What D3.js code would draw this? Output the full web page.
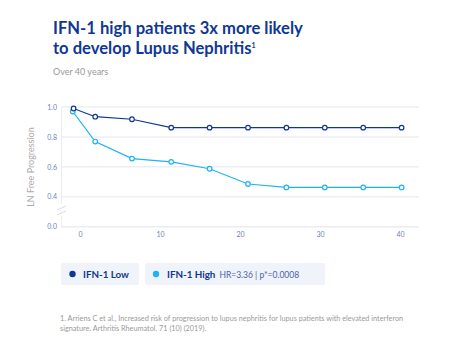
<!DOCTYPE html>
<html>
<head>
<meta charset="utf-8">
<script src="https://cdn.jsdelivr.net/npm/d3@7"></script>
<style>
  body { margin: 0; background: #fff; }
  svg { display: block; font-family: Lato, "Open Sans", sans-serif; }
</style>
</head>
<body>
<svg id="chart" width="461" height="361"></svg>
<script>
const years = [-0.8, 1.9, 6.5, 11.4, 16.2, 21.0, 25.8, 30.6, 35.4, 40.2]
const lowValues = [0.99, 0.935, 0.918, 0.862, 0.862, 0.862, 0.862, 0.862, 0.862, 0.862]
const highYears = [-0.9, 1.9, 6.5, 11.4, 16.2, 21.0, 25.8, 30.6, 35.4, 40.2]
const highValues = [0.97, 0.769, 0.655, 0.633, 0.587, 0.485, 0.462, 0.462, 0.462, 0.462]
const xTicks = [0, 10, 20, 30, 40]
const yTicks = [0, 0.4, 0.6, 0.8, 1.0]

const navy = '#0f3893'
const cyan = '#1cb4f2'

const svg = d3.select('#chart')

// title
svg.append('text').attr('x', 53).attr('y', 34)
    .attr('fill', navy).attr('font-size', 16.6).attr('font-weight', 700)
    .text('IFN-1 high patients 3x more likely')
const t2 = svg.append('text').attr('x', 53).attr('y', 53.5)
    .attr('fill', navy).attr('font-size', 16.6).attr('font-weight', 700)
    .text('to develop Lupus Nephritis')
t2.append('tspan').attr('font-size', 7).attr('dy', -6).text('1')

svg.append('text').attr('x', 53).attr('y', 75)
    .attr('fill', '#999').attr('font-size', 9)
    .text('Over 40 years')

// scales (broken y axis: 0.0 sits where 0.2 would be)
const x = d3.scaleLinear().domain([0, 40]).range([80, 400])
const y = d3.scaleLinear().domain([0, 0.4, 1.0]).range([226.7, 196.7, 107])

// grid
svg.append('g')
    .selectAll('line')
    .data(yTicks.filter(d => d > 0))
    .enter()
    .append('line')
    .attr('x1', 61).attr('x2', 419)
    .attr('y1', d => y(d)).attr('y2', d => y(d))
    .attr('stroke', '#eeeef6').attr('stroke-width', 1.5)

// y axis
const yAxis = d3.axisLeft(y).tickValues(yTicks).tickSize(0).tickPadding(4)
    .tickFormat(d3.format('.1f'))
const gy = svg.append('g').attr('transform', 'translate(61,0)').call(yAxis)
gy.select('.domain').attr('stroke', '#ececf4')
gy.selectAll('text').attr('fill', '#6d7fbf').attr('font-size', 7).attr('font-family', 'Lato, sans-serif')

// break marks
svg.append('rect').attr('x', 58).attr('y', 204).attr('width', 8).attr('height', 12).attr('fill', '#fff')
;[0, 5].forEach(o => {
    svg.append('line')
        .attr('x1', 57).attr('y1', 210 + o).attr('x2', 66).attr('y2', 206 + o)
        .attr('stroke', '#dcdce8').attr('stroke-width', 1)
})

// x axis
const xAxis = d3.axisBottom(x).tickValues(xTicks).tickSize(0).tickPadding(5)
const gx = svg.append('g').attr('transform', 'translate(0,226.7)').call(xAxis)
gx.select('.domain').attr('d', 'M61,0H419').attr('stroke', '#ececf4').attr('stroke-width', 1.5)
gx.selectAll('text').attr('fill', '#6d7fbf').attr('font-size', 7).attr('font-family', 'Lato, sans-serif')

// y label
svg.append('text')
    .attr('transform', 'translate(34,167) rotate(-90)')
    .attr('text-anchor', 'middle')
    .attr('fill', '#aaa').attr('font-size', 9)
    .text('LN Free Progression')

// lines
const series = [
    { xs: highYears, ys: highValues, color: cyan },
    { xs: years, ys: lowValues, color: navy }
]
const line = d3.line().x(d => x(d[0])).y(d => y(d[1]))
series.forEach(s => {
    const pts = s.xs.map((v, i) => [v, s.ys[i]])
    svg.append('path').datum(pts)
        .attr('d', line).attr('fill', 'none')
        .attr('stroke', s.color).attr('stroke-width', 1.2)
    svg.append('g').selectAll('circle').data(pts).enter()
        .append('circle')
        .attr('cx', d => x(d[0])).attr('cy', d => y(d[1])).attr('r', 2.3)
        .attr('fill', '#fff').attr('stroke', s.color).attr('stroke-width', 1.2)
})

// legend
svg.append('rect').attr('x', 61).attr('y', 263).attr('width', 78).attr('height', 22).attr('rx', 2).attr('fill', '#f0f3f9')
svg.append('rect').attr('x', 145).attr('y', 263).attr('width', 180).attr('height', 22).attr('rx', 2).attr('fill', '#f0f3f9')
svg.append('circle').attr('cx', 72.5).attr('cy', 274).attr('r', 3.2).attr('fill', navy)
svg.append('circle').attr('cx', 156).attr('cy', 274).attr('r', 3.2).attr('fill', cyan)
svg.append('text').attr('x', 83).attr('y', 277.5).attr('fill', navy)
    .attr('font-size', 9.8).attr('font-weight', 700).text('IFN-1 Low')
const lt = svg.append('text').attr('x', 167).attr('y', 277.5).attr('fill', navy).attr('font-size', 9.8)
lt.append('tspan').attr('font-weight', 700).text('IFN-1 High')
lt.append('tspan').attr('dx', 4).attr('fill', '#4a63a8').attr('font-size', 8.5).text('HR=3.36 | p*=0.0008')

// footnote
svg.append('text').attr('x', 60).attr('y', 321).attr('fill', '#9a9a9a').attr('font-size', 7.3)
    .text('1. Arriens C et al., Increased risk of progression to lupus nephritis for lupus patients with elevated interferon')
svg.append('text').attr('x', 60).attr('y', 331).attr('fill', '#9a9a9a').attr('font-size', 7.3)
    .text('signature. Arthritis Rheumatol. 71 (10) (2019).')
</script>
</body>
</html>
